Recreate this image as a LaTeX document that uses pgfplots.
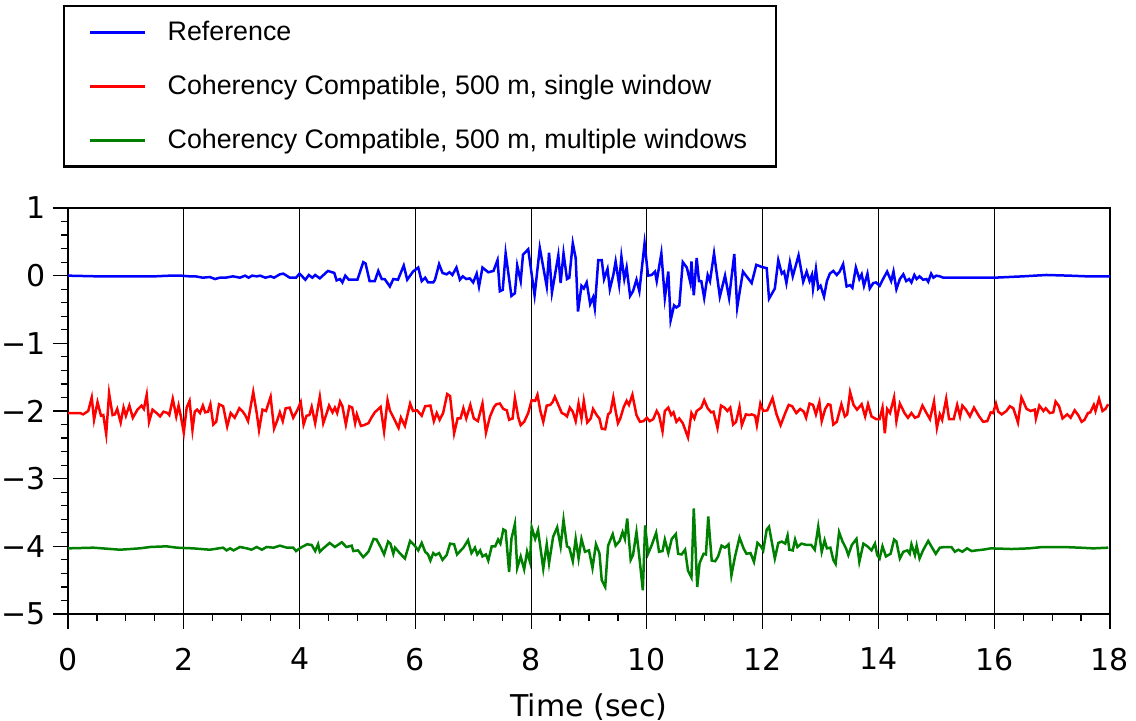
\documentclass[border=0pt]{standalone}
\usepackage{fontspec}
\setmainfont{DejaVu Sans}
\newfontfamily\legfont{Liberation Sans}
\usepackage{pgfplots}
\pgfplotsset{compat=1.18}
\definecolor{cblue}{RGB}{0,0,255}
\definecolor{cred}{RGB}{255,0,0}
\definecolor{cgreen}{RGB}{0,128,0}
\begin{document}
\begin{tikzpicture}
\useasboundingbox (-34pt,-53.5pt) rectangle (534pt,307pt);
\begin{axis}[
  at={(0,0)}, anchor=south west,
  scale only axis, width=521pt, height=203pt,
  xmin=0, xmax=18, ymin=-5, ymax=1,
  xtick={0,2,...,18}, minor x tick num=3,
  ytick={-5,...,1}, yticklabels={−5,−4,−3,−2,−1,0,1}, minor y tick num=4,
  tick align=outside, xtick pos=bottom, ytick pos=left,
  major tick length=7.5pt, minor tick length=3.5pt,
  xmajorgrids, major grid style={black, line width=0.5pt},
  axis line style={line width=1.2pt},
  every tick/.style={black, line width=0.6pt},
  tick label style={font=\fontsize{15}{18}\selectfont},
  xticklabel style={yshift=-6pt},
  yticklabel style={xshift=0pt},
  /pgf/number format/assume math mode=true,
  xlabel={Time (sec)}, xlabel style={font=\fontsize{15}{18}\selectfont, yshift=-4.5pt},
  legend cell align=left,
  legend image code/.code={\draw[#1] (0pt,0pt) -- (27.5pt,0pt);},
  legend style={at={(-0.0048,1.5)}, anchor=north west, draw=black, line width=1.2pt,
    font=\legfont\fontsize{13.4}{16}\selectfont, inner xsep=12.5pt, inner ysep=5.5pt,
    row sep=11.8pt, /tikz/every odd column/.append style={column sep=8.5pt}},
]
\addplot[cblue, line width=1.25pt] coordinates {
(0,0) (0.5,-0.01) (1.0,-0.01) (1.5,-0.01) (1.76,0) (1.95,0) (2.1,-0.01) (2.2,-0.01) (2.33,-0.03) (2.45,-0.02) (2.54,-0.05) (2.62,-0.03) (2.72,-0.03) (2.85,-0.01) (2.97,-0.03) (3.06,0) (3.12,-0.03) (3.18,0) (3.26,-0.01) (3.32,0) (3.41,-0.03) (3.5,-0.01) (3.56,-0.03) (3.66,0.02) (3.72,0.03) (3.83,-0.03) (3.94,-0.03) (4.0,0.03) (4.1,-0.06) (4.16,0.01) (4.22,-0.03) (4.27,0.01) (4.35,-0.04) (4.49,0.07) (4.6,0.04) (4.64,-0.07) (4.7,-0.05) (4.74,-0.1) (4.79,0.0) (4.85,-0.06) (5.0,-0.06) (5.1,0.2) (5.14,0.18) (5.21,-0.08) (5.3,-0.08) (5.36,0.07) (5.42,-0.05) (5.47,-0.05) (5.56,-0.16) (5.62,-0.05) (5.7,-0.06) (5.8,0.15) (5.86,-0.06) (5.96,0.06) (6.05,0.12) (6.11,-0.08) (6.17,-0.03) (6.22,-0.1) (6.31,-0.1) (6.34,-0.06) (6.41,0.17) (6.47,0.04) (6.54,0.02) (6.59,0.05) (6.64,0.01) (6.71,0.12) (6.77,-0.06) (6.82,-0.01) (6.88,-0.05) (6.94,-0.04) (7.0,-0.1) (7.06,0.03) (7.1,-0.16) (7.16,0.12) (7.26,0.05) (7.35,0.07) (7.42,0.23) (7.46,-0.23) (7.51,-0.21) (7.56,0.33) (7.66,-0.3) (7.72,-0.26) (7.76,0.15) (7.82,-0.08) (7.86,0.31) (7.95,0.39) (8.06,-0.29) (8.15,0.41) (8.27,-0.16) (8.31,0.34) (8.36,-0.25) (8.47,0.3) (8.51,-0.11) (8.56,0.33) (8.62,-0.05) (8.66,-0.03) (8.72,0.48) (8.77,0.26) (8.81,-0.53) (8.87,-0.15) (8.91,-0.19) (8.96,-0.1) (9.02,-0.42) (9.07,-0.32) (9.1,-0.48) (9.16,0.23) (9.22,0.23) (9.26,-0.05) (9.32,0.1) (9.36,-0.2) (9.42,0.01) (9.46,0.21) (9.52,-0.13) (9.56,0.28) (9.61,-0.05) (9.65,0.12) (9.71,-0.3) (9.76,-0.23) (9.82,-0.06) (9.87,-0.23) (9.96,0.48) (10.02,0.0) (10.08,0.01) (10.14,0.06) (10.17,-0.08) (10.25,0.33) (10.31,-0.33) (10.37,0.06) (10.41,-0.66) (10.47,-0.44) (10.51,-0.47) (10.56,-0.44) (10.62,0.2) (10.69,0.12) (10.75,-0.1) (10.77,0.21) (10.81,-0.29) (10.86,0.26) (10.9,-0.08) (10.94,-0.08) (10.99,-0.33) (11.05,0.01) (11.09,-0.08) (11.16,0.33) (11.26,-0.31) (11.35,0) (11.42,-0.33) (11.51,0.32) (11.56,-0.47) (11.61,-0.2) (11.66,0.06) (11.81,-0.11) (11.89,0.16) (11.98,0.13) (12.07,0.11) (12.11,-0.34) (12.21,-0.19) (12.27,0.23) (12.33,0.03) (12.37,0.06) (12.41,-0.11) (12.47,0.2) (12.52,-0.01) (12.62,0.3) (12.67,0.06) (12.70,-0.09) (12.76,0.06) (12.81,-0.08) (12.85,0.01) (12.87,-0.19) (12.92,0.1) (12.96,-0.19) (13.0,-0.15) (13.06,-0.31) (13.11,-0.08) (13.16,0.03) (13.22,0.07) (13.28,0.01) (13.33,0.06) (13.39,0.17) (13.45,-0.16) (13.51,-0.14) (13.55,-0.18) (13.61,0.12) (13.67,-0.05) (13.71,0.02) (13.75,-0.15) (13.81,0.03) (13.85,-0.19) (13.91,-0.11) (13.96,-0.1) (14.02,-0.15) (14.08,-0.05) (14.15,0.06) (14.22,-0.08) (14.26,0.06) (14.31,-0.2) (14.37,-0.05) (14.43,0.02) (14.48,-0.08) (14.53,-0.05) (14.57,-0.1) (14.62,0.01) (14.66,-0.05) (14.71,-0.01) (14.77,-0.06) (14.83,-0.05) (14.86,-0.09) (14.91,0.03) (14.95,-0.03) (15.0,0) (15.06,-0.01) (15.12,-0.03) (15.5,-0.03) (16.0,-0.03) (16.5,-0.01) (16.9,0.01) (17.3,0.0) (17.6,-0.01) (18,-0.01)
};
\addlegendentry{Reference}
\addplot[cred, line width=1.25pt] coordinates {
(0,-2.03) (0.21,-2.03) (0.26,-2.05) (0.35,-2.0) (0.41,-1.8) (0.45,-2.13) (0.51,-1.87) (0.57,-2.07) (0.61,-2.06) (0.66,-2.34) (0.71,-1.74) (0.77,-2.06) (0.81,-2.05) (0.85,-1.97) (0.91,-2.17) (0.96,-1.95) (1.0,-2.07) (1.06,-1.92) (1.12,-2.1) (1.2,-1.98) (1.27,-1.92) (1.31,-1.97) (1.36,-1.76) (1.4,-2.16) (1.46,-1.98) (1.53,-2.03) (1.59,-2.08) (1.65,-2.01) (1.72,-2.03) (1.75,-2.06) (1.81,-1.82) (1.87,-2.08) (1.91,-1.92) (1.95,-2.08) (2.0,-2.32) (2.05,-1.95) (2.1,-1.85) (2.15,-2.28) (2.19,-2.01) (2.23,-1.98) (2.28,-2.03) (2.33,-1.92) (2.37,-2.02) (2.42,-2.01) (2.46,-1.9) (2.51,-2.2) (2.56,-2.16) (2.61,-1.9) (2.68,-1.93) (2.75,-2.23) (2.81,-2.03) (2.88,-2.1) (2.96,-1.96) (3.02,-2.01) (3.06,-2.06) (3.11,-2.15) (3.2,-1.72) (3.26,-2.03) (3.3,-2.28) (3.36,-1.98) (3.42,-2.0) (3.5,-1.79) (3.56,-2.26) (3.61,-2.15) (3.66,-2.02) (3.71,-2.15) (3.76,-1.96) (3.83,-1.95) (3.89,-2.1) (3.96,-1.99) (4.02,-1.87) (4.07,-2.2) (4.12,-2.07) (4.17,-2.06) (4.21,-1.94) (4.27,-2.18) (4.35,-1.79) (4.41,-2.18) (4.47,-2.03) (4.51,-1.92) (4.57,-2.02) (4.61,-1.95) (4.65,-2.03) (4.7,-1.86) (4.74,-1.93) (4.8,-2.2) (4.86,-1.93) (4.91,-1.95) (4.96,-2.18) (4.99,-2.05) (5.06,-2.22) (5.11,-2.21) (5.19,-2.18) (5.24,-2.1) (5.3,-2.02) (5.4,-1.94) (5.46,-2.3) (5.52,-1.84) (5.56,-1.99) (5.63,-2.11) (5.71,-2.25) (5.75,-2.1) (5.82,-2.22) (5.91,-1.89) (5.96,-2.0) (6.03,-1.99) (6.11,-2.07) (6.17,-1.93) (6.26,-1.92) (6.32,-2.15) (6.37,-2.03) (6.42,-2.13) (6.48,-2.03) (6.55,-1.75) (6.6,-1.78) (6.67,-2.33) (6.73,-2.11) (6.78,-2.11) (6.83,-1.96) (6.88,-2.11) (6.95,-1.91) (7.01,-2.11) (7.08,-2.15) (7.16,-1.89) (7.22,-2.32) (7.29,-2.08) (7.36,-1.94) (7.4,-1.9) (7.46,-1.89) (7.52,-1.97) (7.58,-1.99) (7.62,-2.13) (7.68,-2.11) (7.72,-1.81) (7.78,-2.1) (7.82,-2.21) (7.88,-2.16) (7.95,-2.03) (8.01,-1.84) (8.07,-1.85) (8.11,-1.76) (8.16,-2.0) (8.21,-2.16) (8.27,-1.92) (8.33,-1.91) (8.37,-1.87) (8.41,-1.79) (8.47,-1.91) (8.53,-2.03) (8.58,-2.05) (8.62,-2.08) (8.67,-1.95) (8.72,-2.01) (8.77,-2.15) (8.82,-1.89) (8.87,-2.11) (8.91,-1.85) (8.97,-2.17) (9.03,-2.11) (9.07,-1.97) (9.14,-2.07) (9.18,-2.11) (9.22,-2.26) (9.28,-2.27) (9.33,-2.05) (9.37,-2.02) (9.42,-1.8) (9.46,-2.0) (9.5,-2.18) (9.54,-2.11) (9.6,-1.94) (9.65,-1.85) (9.69,-1.91) (9.75,-1.76) (9.82,-2.06) (9.88,-2.16) (9.94,-2.15) (10.0,-2.1) (10.05,-2.15) (10.11,-2.12) (10.17,-2.0) (10.21,-2.06) (10.27,-2.3) (10.31,-2.0) (10.37,-1.95) (10.42,-2.06) (10.46,-2.02) (10.51,-2.16) (10.56,-2.11) (10.62,-2.18) (10.71,-2.39) (10.77,-2.03) (10.82,-2.11) (10.86,-2.0) (10.94,-1.95) (10.99,-1.84) (11.05,-1.96) (11.11,-2.02) (11.15,-2.01) (11.22,-2.25) (11.28,-1.92) (11.34,-1.95) (11.39,-2.0) (11.44,-1.95) (11.49,-2.2) (11.54,-2.16) (11.6,-1.94) (11.64,-2.21) (11.71,-2.05) (11.77,-2.06) (11.81,-2.05) (11.87,-2.07) (11.9,-2.21) (11.96,-1.89) (12.01,-2.0) (12.08,-1.99) (12.17,-1.81) (12.24,-2.05) (12.31,-2.21) (12.39,-2.03) (12.45,-1.91) (12.51,-1.93) (12.58,-2.03) (12.65,-1.97) (12.71,-2.01) (12.75,-2.1) (12.81,-1.89) (12.87,-1.91) (12.92,-2.05) (12.98,-1.87) (13.02,-2.15) (13.08,-1.97) (13.13,-1.9) (13.17,-1.91) (13.22,-2.2) (13.28,-2.16) (13.36,-1.9) (13.42,-2.08) (13.46,-2.05) (13.51,-1.72) (13.57,-1.91) (13.63,-1.98) (13.71,-1.9) (13.77,-2.08) (13.82,-1.9) (13.88,-2.08) (13.96,-2.12) (14.02,-2.12) (14.07,-1.95) (14.11,-2.33) (14.15,-1.97) (14.2,-2.03) (14.27,-1.8) (14.31,-2.15) (14.37,-1.89) (14.45,-2.03) (14.51,-2.1) (14.57,-2.03) (14.63,-2.1) (14.69,-2.08) (14.76,-1.92) (14.83,-2.03) (14.89,-2.12) (14.96,-1.86) (15.01,-2.25) (15.06,-2.05) (15.1,-2.13) (15.17,-1.82) (15.22,-2.12) (15.3,-2.12) (15.36,-1.91) (15.41,-2.08) (15.45,-1.92) (15.51,-1.98) (15.58,-2.08) (15.65,-1.95) (15.74,-2.08) (15.81,-2.16) (15.88,-2.15) (15.94,-2.02) (15.98,-2.03) (16.03,-1.89) (16.07,-2.01) (16.13,-2.05) (16.21,-2.0) (16.27,-1.93) (16.33,-1.96) (16.41,-2.17) (16.47,-1.8) (16.56,-1.97) (16.63,-2.0) (16.7,-1.98) (16.72,-2.11) (16.78,-1.92) (16.85,-2.0) (16.89,-1.96) (16.96,-2.03) (17.02,-2.02) (17.06,-1.86) (17.12,-1.93) (17.18,-2.11) (17.26,-2.05) (17.32,-2.1) (17.39,-1.99) (17.45,-2.06) (17.51,-2.16) (17.56,-2.13) (17.62,-2.03) (17.66,-2.02) (17.72,-1.91) (17.75,-2.0) (17.81,-1.82) (17.87,-2.0) (17.92,-1.97) (17.97,-1.9)
};
\addlegendentry{Coherency Compatible, 500 m, single window}
\addplot[cgreen, line width=1.25pt] coordinates {
(0,-4.03) (0.44,-4.02) (0.9,-4.05) (1.24,-4.03) (1.42,-4.01) (1.7,-4.0) (1.88,-4.02) (2.16,-4.03) (2.45,-4.05) (2.68,-4.02) (2.74,-4.06) (2.8,-4.03) (2.86,-4.06) (2.97,-4.01) (3.09,-4.03) (3.17,-4.05) (3.26,-4.01) (3.35,-4.05) (3.43,-4.01) (3.55,-4.02) (3.66,-3.99) (3.78,-4.02) (3.89,-4.02) (3.94,-4.07) (4.02,-4.02) (4.13,-3.97) (4.21,-3.98) (4.27,-4.07) (4.32,-3.97) (4.35,-4.08) (4.41,-4.03) (4.52,-3.95) (4.61,-4.01) (4.73,-3.94) (4.81,-4.01) (4.9,-3.99) (4.93,-4.07) (5.01,-4.06) (5.1,-4.16) (5.19,-4.08) (5.28,-3.89) (5.33,-3.9) (5.4,-4.01) (5.46,-4.12) (5.53,-3.93) (5.57,-3.96) (5.62,-4.11) (5.65,-4.02) (5.73,-4.1) (5.82,-4.18) (5.91,-3.92) (5.99,-3.99) (6.05,-4.06) (6.11,-3.95) (6.17,-4.08) (6.22,-4.12) (6.26,-4.21) (6.31,-4.1) (6.35,-4.13) (6.41,-4.1) (6.47,-4.2) (6.54,-4.13) (6.6,-3.96) (6.67,-3.97) (6.72,-4.12) (6.83,-4.02) (6.91,-3.91) (6.97,-4.1) (7.03,-4.02) (7.07,-4.12) (7.12,-4.06) (7.16,-4.15) (7.22,-4.12) (7.26,-4.21) (7.32,-4.0) (7.38,-4.0) (7.43,-3.9) (7.47,-3.96) (7.52,-3.75) (7.56,-3.77) (7.62,-4.38) (7.66,-3.89) (7.72,-3.67) (7.76,-4.32) (7.82,-4.15) (7.88,-4.34) (7.93,-4.08) (7.98,-4.23) (8.01,-3.72) (8.07,-3.89) (8.12,-3.76) (8.21,-4.33) (8.27,-3.97) (8.31,-4.25) (8.38,-3.86) (8.45,-3.72) (8.51,-4.0) (8.56,-3.61) (8.62,-4.0) (8.66,-4.02) (8.72,-4.22) (8.77,-3.89) (8.82,-4.18) (8.87,-3.89) (8.93,-4.08) (9.0,-4.06) (9.06,-4.32) (9.12,-3.97) (9.18,-4.1) (9.22,-4.5) (9.28,-4.6) (9.33,-3.99) (9.41,-3.82) (9.46,-3.99) (9.53,-3.92) (9.58,-3.79) (9.62,-3.89) (9.66,-3.59) (9.72,-4.2) (9.76,-4.13) (9.82,-3.79) (9.87,-4.16) (9.93,-4.65) (9.97,-3.69) (10.02,-4.11) (10.08,-3.99) (10.16,-3.8) (10.21,-4.08) (10.27,-4.07) (10.31,-3.9) (10.37,-4.1) (10.43,-3.89) (10.5,-3.82) (10.54,-4.11) (10.6,-4.12) (10.66,-4.05) (10.71,-4.36) (10.77,-4.46) (10.81,-3.44) (10.87,-4.6) (10.91,-4.25) (10.98,-4.11) (11.02,-4.12) (11.06,-3.56) (11.12,-4.21) (11.18,-4.22) (11.23,-4.15) (11.29,-3.99) (11.35,-4.02) (11.41,-3.97) (11.46,-4.43) (11.52,-4.16) (11.6,-3.87) (11.67,-4.03) (11.72,-4.11) (11.79,-4.1) (11.85,-4.23) (11.91,-3.95) (11.97,-4.0) (12.01,-4.06) (12.07,-3.75) (12.11,-3.71) (12.15,-3.9) (12.21,-4.18) (12.27,-3.95) (12.33,-3.93) (12.39,-3.96) (12.43,-3.84) (12.46,-4.05) (12.52,-4.06) (12.56,-3.9) (12.6,-4.01) (12.67,-3.96) (12.76,-3.98) (12.84,-3.98) (12.9,-4.05) (12.96,-3.71) (13.02,-4.08) (13.07,-3.91) (13.11,-4.03) (13.17,-4.02) (13.22,-4.2) (13.26,-4.26) (13.32,-3.79) (13.38,-3.93) (13.44,-4.03) (13.48,-4.13) (13.54,-3.98) (13.62,-3.89) (13.67,-4.23) (13.74,-3.96) (13.81,-4.0) (13.88,-4.06) (13.94,-3.96) (13.98,-4.13) (14.02,-4.18) (14.07,-4.0) (14.13,-4.15) (14.21,-4.11) (14.27,-3.9) (14.31,-3.93) (14.37,-4.18) (14.43,-4.08) (14.5,-4.06) (14.54,-4.11) (14.57,-3.97) (14.63,-4.13) (14.66,-3.99) (14.71,-4.18) (14.77,-4.06) (14.86,-3.92) (14.92,-4.01) (14.99,-4.11) (15.06,-4.02) (15.15,-4.01) (15.26,-4.01) (15.32,-4.08) (15.38,-4.05) (15.45,-4.08) (15.53,-4.03) (15.61,-4.07) (15.69,-4.06) (15.8,-4.05) (15.94,-4.03) (16.3,-4.04) (16.6,-4.03) (16.84,-4.01) (17.19,-4.01) (17.48,-4.02) (17.71,-4.03) (17.97,-4.02)
};
\addlegendentry{Coherency Compatible, 500 m, multiple windows}
\end{axis}
\end{tikzpicture}
\end{document}
